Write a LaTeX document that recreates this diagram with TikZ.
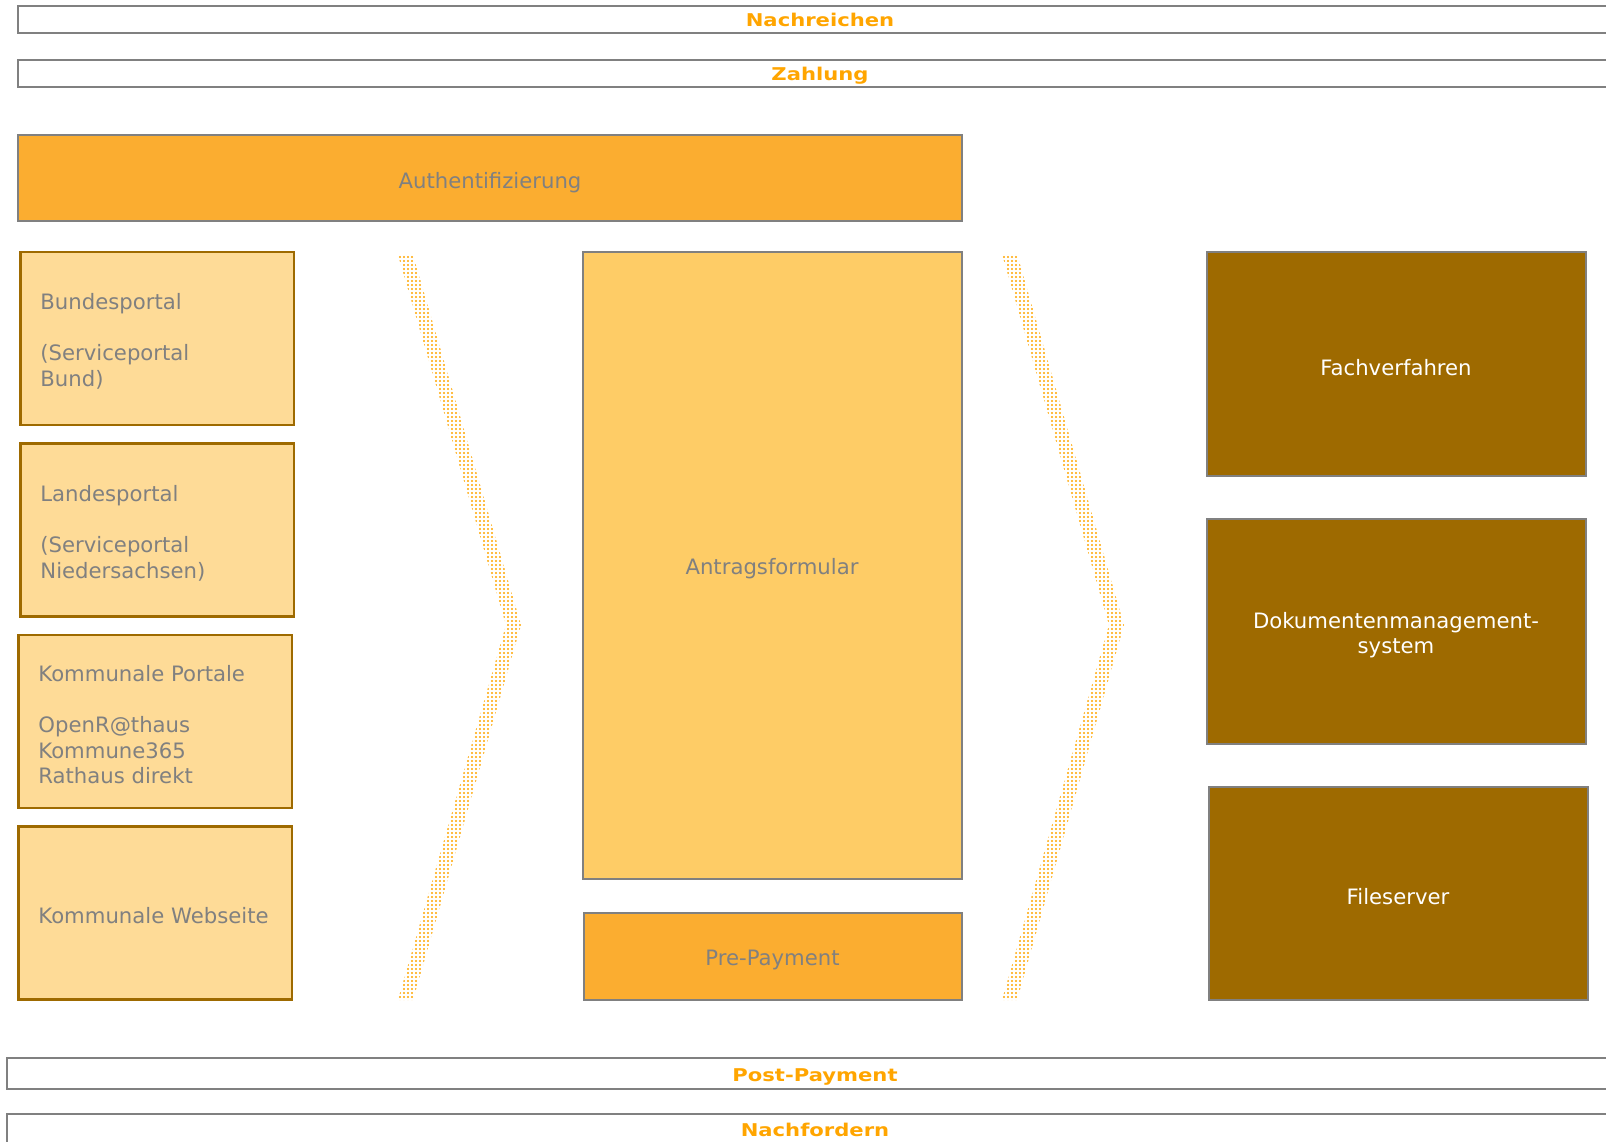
\documentclass[tikz,border=0pt]{standalone}
\usepackage{fontspec}
\setmainfont{DejaVu Sans}
\usetikzlibrary{patterns.meta}
\definecolor{gr}{HTML}{808080}
\definecolor{orT}{HTML}{FFA500}
\definecolor{authF}{HTML}{FBAD30}
\definecolor{formF}{HTML}{FECC66}
\definecolor{portF}{HTML}{FEDB97}
\definecolor{portB}{HTML}{9E6A00}
\definecolor{brownF}{HTML}{9E6A00}
\begin{document}
\begin{tikzpicture}[x=0.5pt,y=-0.5pt,
  band/.style={draw=gr, line width=1.15pt},
  bandtxt/.style={text=orT, font=\bfseries\fontsize{8.8}{10}\selectfont, inner sep=0pt, anchor=base},
  graybox/.style={draw=gr, line width=1pt},
  portbox/.style={fill=portF, draw=portB, line width=1.2pt},
  txt/.style={text=gr, font=\fontsize{10.6}{12.8}\selectfont, inner sep=0pt},
  ltxt/.style={txt, align=left, anchor=west},
  wtxt/.style={text=white, font=\fontsize{10.6}{12.8}\selectfont, inner sep=0pt, align=center},
  chev/.style={pattern={Dots[distance=2pt,radius=0.55pt]}, pattern color=orT}]
\useasboundingbox (0,0) rectangle (1606,1141);
\clip (0,0) rectangle (1606,1141);
% bands
\draw[band] (18,6) rectangle (1622,33);
\node[bandtxt] (nachreichen) at (820,26) {\scalebox{1.2}[1]{Nachreichen}};
\draw[band] (18,60) rectangle (1622,87);
\node[bandtxt] (zahlung) at (820,80) {\scalebox{1.2}[1]{Zahlung}};
\draw[band] (7,1058) rectangle (1623,1089);
\node[bandtxt] (postpay) at (815,1081.5) {\scalebox{1.2}[1]{Post-Payment}};
\draw[band] (7,1114) rectangle (1623,1160);
\node[bandtxt] (nachfordern) at (815,1136.5) {\scalebox{1.2}[1]{Nachfordern}};
% authentication
\draw[graybox, fill=authF] (18.4,135.2) rectangle (961.7,221.2);
\node[txt] (auth) at (490,183) {Authentifizierung};
% portals
\draw[portbox] (20.5,252) rectangle (294,425);
\node[ltxt] (bund) at (40,341.5) {Bundesportal\\[12.8pt](Serviceportal\\Bund)};
\draw[portbox] (20.5,443.5) rectangle (294,616.6);
\node[ltxt] (land) at (40,533) {Landesportal\\[12.8pt](Serviceportal\\Niedersachsen)};
\draw[portbox] (18.4,635) rectangle (292,808);
\node[ltxt] (kommportale) at (38,724.5) {Kommunale Portale\\[12.8pt]OpenR@thaus\\Kommune365\\Rathaus direkt};
\draw[portbox] (18.4,826.5) rectangle (292,999.6);
\node[ltxt] (kommweb) at (38,916) {Kommunale Webseite};
% chevrons
\fill[chev] (398,255) -- (413,255) -- (521,625) -- (413,1000) -- (398,1000) -- (506,625) -- cycle;
\fill[chev] (1002,254) -- (1017,254) -- (1124,625) -- (1017,1000) -- (1002,1000) -- (1109,625) -- cycle;
% form
\draw[graybox, fill=formF] (582.8,252) rectangle (961.7,878.8);
\node[txt] (antrag) at (772,569) {Antragsformular};
\draw[graybox, fill=authF] (584,912.7) rectangle (961.7,999.5);
\node[txt] (prepay) at (772.5,960) {Pre-Payment};
% backends
\draw[graybox, fill=brownF] (1206.5,252) rectangle (1585.5,476.3);
\node[wtxt] (fach) at (1396,368) {Fachverfahren};
\draw[graybox, fill=brownF] (1206.5,519.3) rectangle (1585.5,743.6);
\node[wtxt] (dms) at (1396,635) {Dokumentenmanagement-\\system};
\draw[graybox, fill=brownF] (1208.6,786.6) rectangle (1587.5,999.6);
\node[wtxt] (file) at (1398,897) {Fileserver};
\end{tikzpicture}
\end{document}
